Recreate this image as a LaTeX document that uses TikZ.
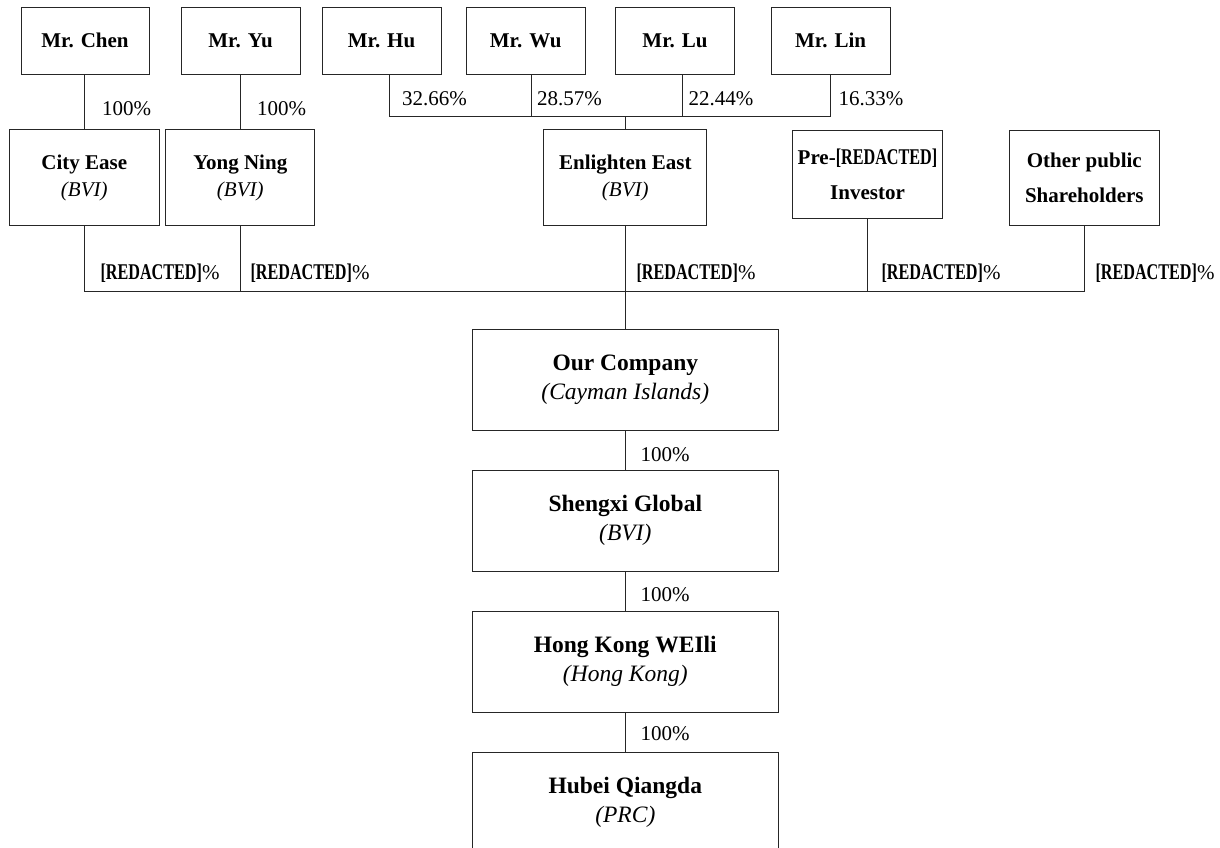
\documentclass[tikz,border=0pt]{standalone}
\usepackage{fontspec}
\setmainfont{Liberation Serif}
\usepackage{graphicx}
\newcommand{\redact}{\scalebox{0.77}[1.07]{[REDACTED]}}
\begin{document}
\begin{tikzpicture}[x=1pt,y=-1pt, line width=1pt,
  ln/.style={draw=black!85},
  topbox/.style={draw=black!85, inner sep=0pt, minimum width=119pt, minimum height=67pt,
    font=\fontsize{21}{27.6}\selectfont\bfseries},
  midbox/.style={draw=black!85, inner sep=0pt, align=center, minimum height=95.7pt,
    font=\fontsize{21}{27.6}\selectfont},
  lowbox/.style={draw=black!85, inner sep=0pt, align=center, minimum width=306pt, minimum height=101pt,
    font=\fontsize{23.5}{29}\selectfont},
  pct/.style={anchor=base west, inner sep=0pt, font=\fontsize{21}{25}\selectfont},
]
\useasboundingbox (0,0) rectangle (1220,847);
\clip (0,0) rectangle (1220,847);
\fill[white] (0,0) rectangle (1220,847);

% top row
\node[topbox, minimum width=128pt] (chen) at (85,40.5) {Mr. Chen};
\node[topbox] (yu)  at (240.5,40.5) {Mr. Yu};
\node[topbox] (hu)  at (381.5,40.5) {Mr. Hu};
\node[topbox] (wu)  at (525.7,40.5) {Mr. Wu};
\node[topbox] (lu)  at (675,40.5) {Mr. Lu};
\node[topbox] (lin) at (830.6,40.5) {Mr. Lin};

% middle row
\node[midbox, minimum width=150pt] (city) at (84.3,177.8) {\textbf{City Ease}\\\textit{(BVI)}};
\node[midbox, minimum width=149.3pt] (yong) at (240.3,177.8) {\textbf{Yong Ning}\\\textit{(BVI)}};
\node[midbox, minimum width=163.3pt] (ee) at (625.3,177.8) {\textbf{Enlighten East}\\\textit{(BVI)}};
\node[midbox, minimum width=150.4pt, minimum height=88.3pt] (pre) at (867.5,174.2) {\textbf{Pre-\redact}\\[7pt]\textbf{Investor}};
\node[midbox, minimum width=150pt, minimum height=95.3pt] (other) at (1084.3,177.7) {\textbf{Other public}\\[7pt]\textbf{Shareholders}};

% lower column
\node[lowbox] (our) at (625.3,379.7) {\textbf{Our Company}\\\textit{(Cayman Islands)}};
\node[lowbox] (sx)  at (625.3,520.5) {\textbf{Shengxi Global}\\\textit{(BVI)}};
\node[lowbox] (hk)  at (625.3,661.7) {\textbf{Hong Kong WEIli}\\\textit{(Hong Kong)}};
\node[lowbox] (hb)  at (625.3,802.8) {\textbf{Hubei Qiangda}\\\textit{(PRC)}};

% connectors
\coordinate (tb) at (625.3,116);
\coordinate (bb) at (625.3,291.7);
\draw[ln] (city.north) -- (city.north |- chen.south);
\draw[ln] (yong.north) -- (yong.north |- yu.south);
\draw[ln] ([xshift=8pt]hu.south) |- (lin.south |- tb) -- (lin.south);
\draw[ln] ([xshift=6pt]wu.south) -- ([xshift=6pt]wu.south |- tb);
\draw[ln] ([xshift=7.7pt]lu.south) -- ([xshift=7.7pt]lu.south |- tb);
\draw[ln] (ee.north) -- (ee.north |- tb);
\draw[ln] (city.south) |- (other.south |- bb) -- (other.south);
\draw[ln] (yong.south) -- (yong.south |- bb);
\draw[ln] (pre.south) -- (pre.south |- bb);
\draw[ln] (ee.south) -- (our.north);
\draw[ln] (our.south) -- (sx.north);
\draw[ln] (sx.south) -- (hk.north);
\draw[ln] (hk.south) -- (hb.north);

% labels
\node[pct] (l1) at (101.7,115) {100\%};
\node[pct] (l2) at (256.7,115) {100\%};
\node[pct] (l3) at (401.7,105) {32.66\%};
\node[pct] (l4) at (536.7,105) {28.57\%};
\node[pct] (l5) at (688,105) {22.44\%};
\node[pct] (l6) at (838,105) {16.33\%};
\node[pct] (r1) at (100,279) {\textbf{\redact}\%};
\node[pct] (r2) at (250,279) {\textbf{\redact}\%};
\node[pct] (r3) at (636,279) {\textbf{\redact}\%};
\node[pct] (r4) at (881,279) {\textbf{\redact}\%};
\node[pct] (r5) at (1095,279) {\textbf{\redact}\%};
\node[pct] (l7) at (640,461) {100\%};
\node[pct] (l8) at (640,601.7) {100\%};
\node[pct] (l9) at (640,740.7) {100\%};
\end{tikzpicture}
\end{document}
